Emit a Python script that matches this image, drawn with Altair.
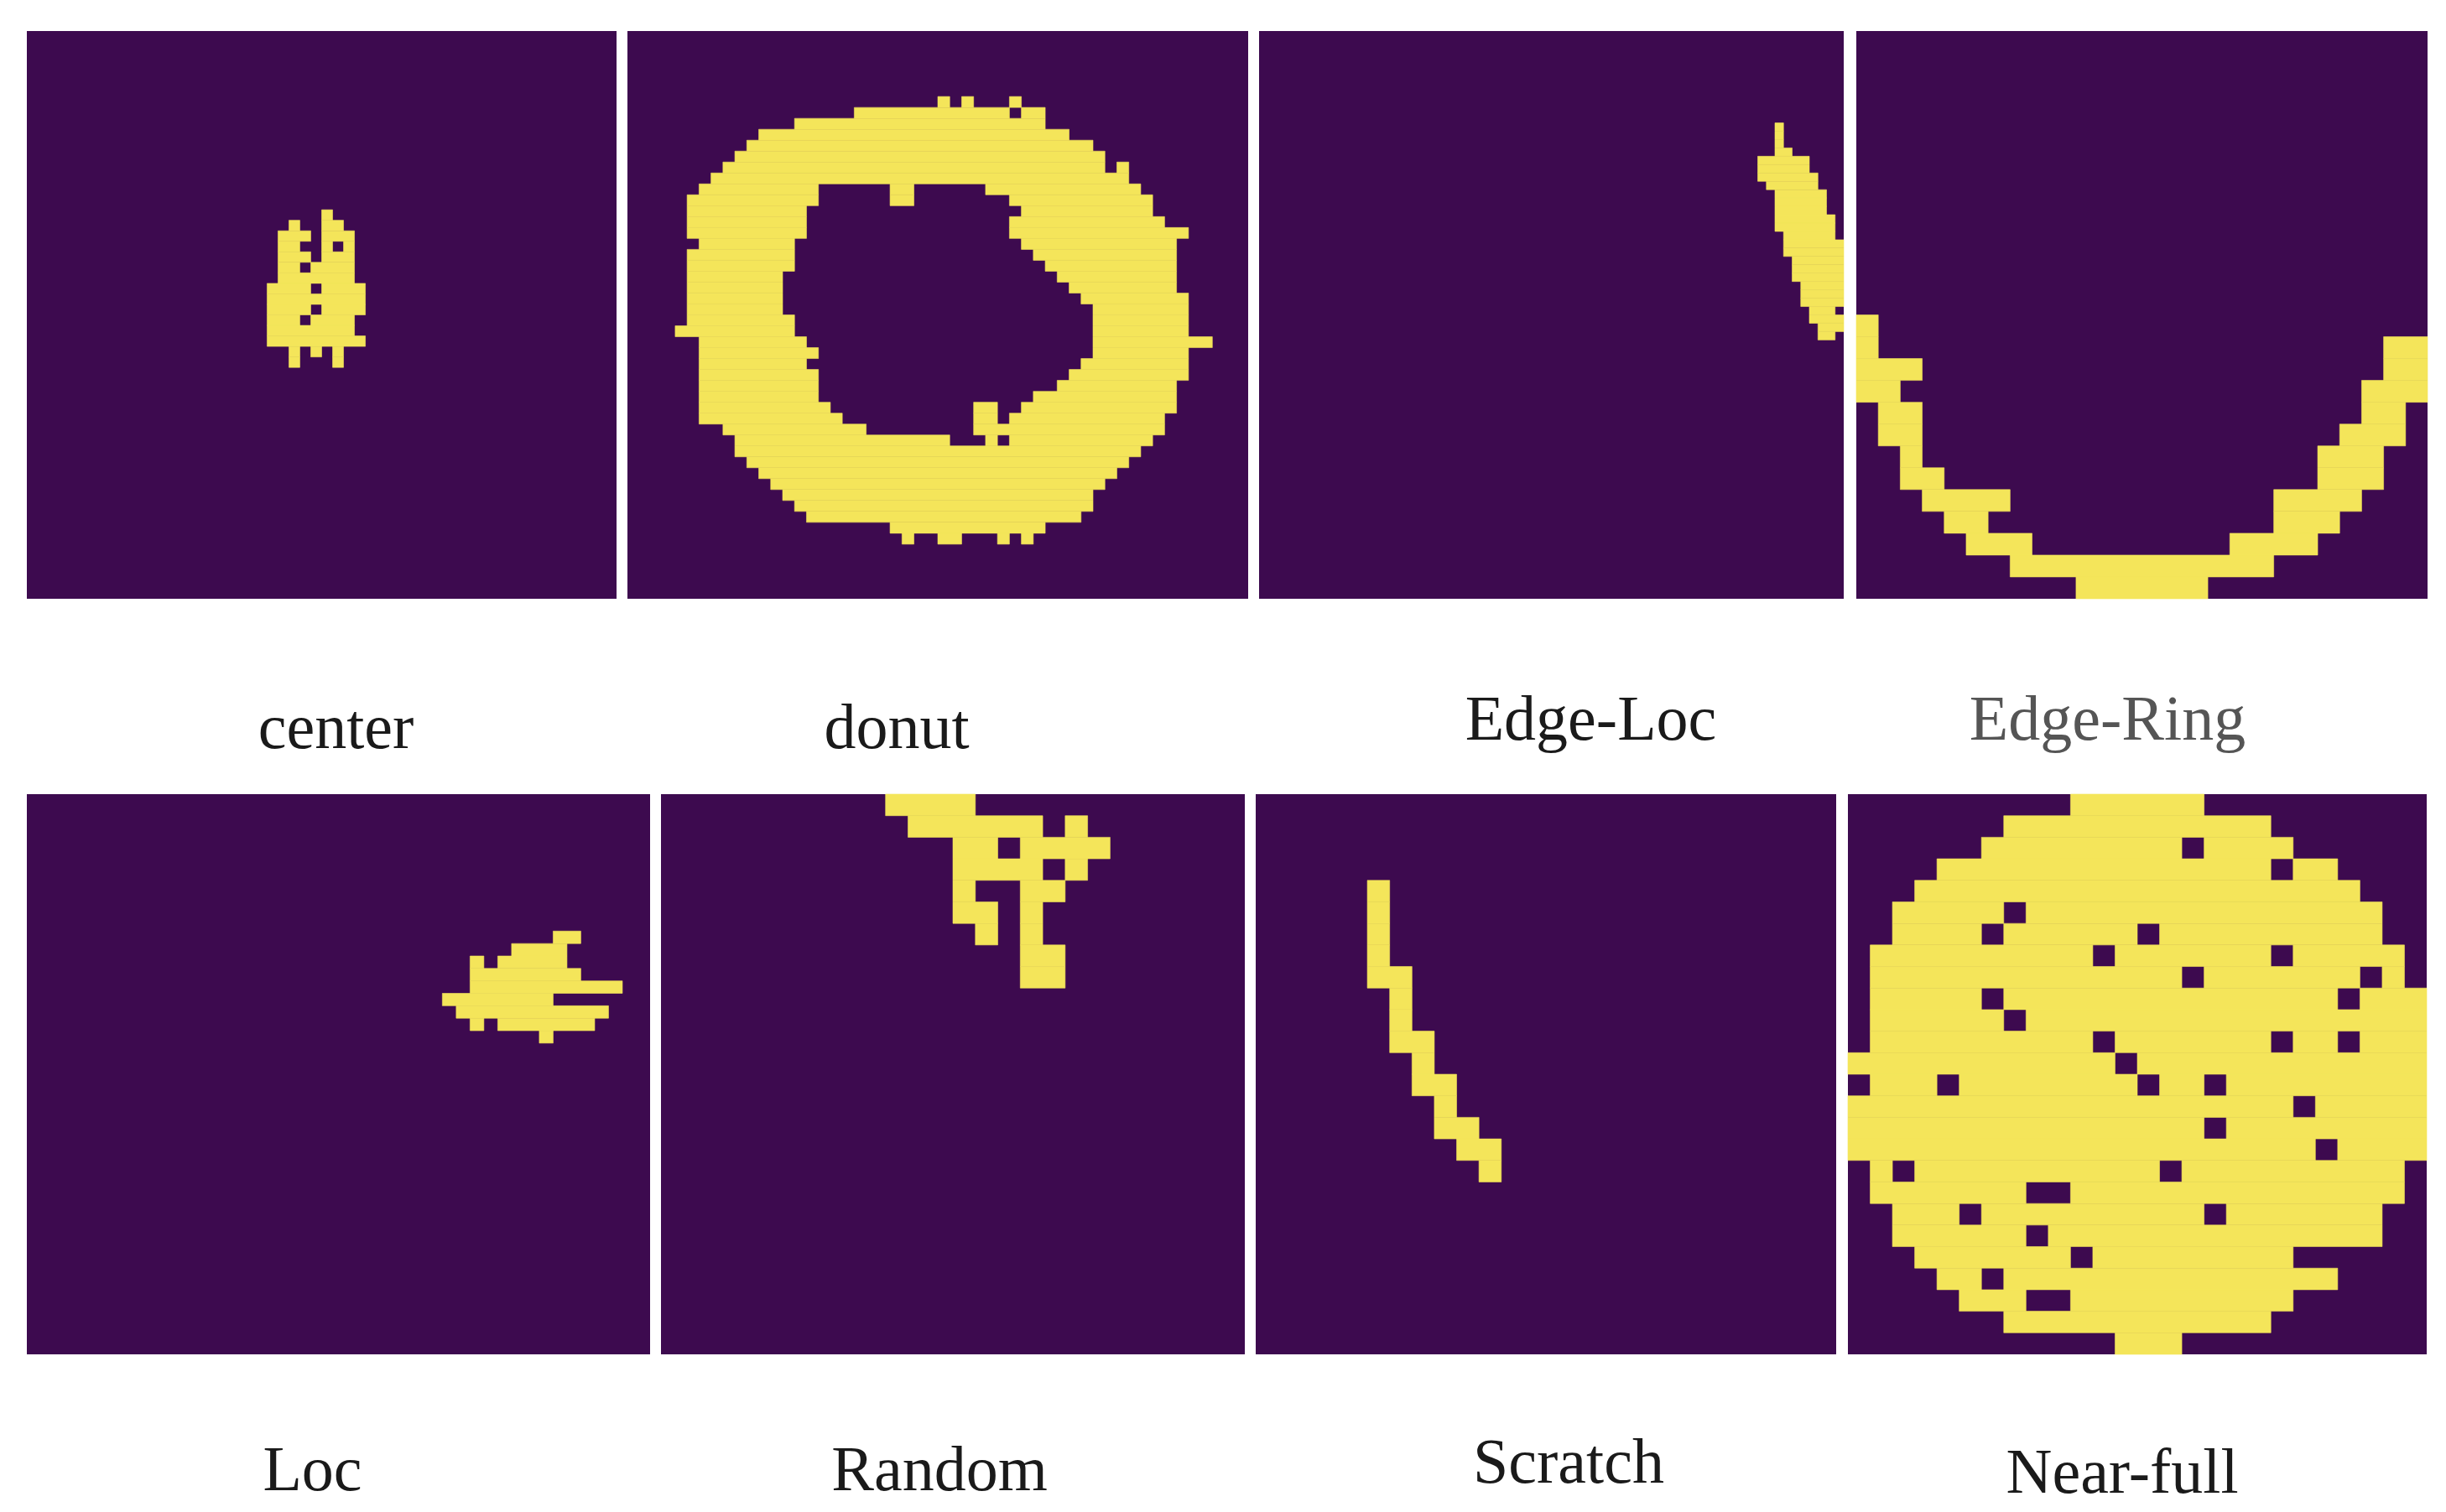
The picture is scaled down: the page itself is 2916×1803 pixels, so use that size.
import altair as alt
import pandas as pd

PURPLE = "#3d0a4f"
YELLOW = "#f4e55a"
FONT = "Liberation Serif"

# ---- panel labels ----
ROW1 = ["center", "donut", "Edge-Loc", "Edge-Ring"]
ROW2 = ["Loc", "Random", "Scratch", "Near-full"]

# ---- cells per side of each wafer map ----
GRID = {"center": 54, "donut": 52, "Edge-Loc": 68, "Edge-Ring": 26,
        "Loc": 45, "Random": 26, "Scratch": 26, "Near-full": 26}

# ---- failing dies: row -> list of (first_col, last_col) runs ----
CENTER = {
    17: [(27, 27)], 18: [(24, 24), (27, 28)], 19: [(23, 25), (27, 29)],
    20: [(23, 24), (27, 27), (29, 29)], 21: [(23, 25), (27, 29)],
    22: [(23, 24), (26, 29)], 23: [(23, 29)], 24: [(22, 25), (27, 30)],
    25: [(22, 30)], 26: [(22, 25), (27, 30)], 27: [(22, 24), (26, 29)],
    28: [(22, 29)], 29: [(22, 30)], 30: [(24, 24), (26, 26), (28, 28)],
    31: [(24, 24), (28, 28)],
}

DONUT = {
    6: [(26, 26), (28, 28), (32, 32)], 7: [(19, 31), (33, 34)], 8: [(14, 34)],
    9: [(11, 36)], 10: [(10, 38)], 11: [(9, 39)], 12: [(8, 39), (41, 41)],
    13: [(7, 41)], 14: [(6, 15), (22, 23), (30, 42)],
    15: [(5, 15), (22, 23), (32, 43)], 16: [(5, 14), (33, 43)],
    17: [(5, 14), (32, 44)], 18: [(5, 14), (32, 46)], 19: [(6, 13), (33, 45)],
    20: [(5, 13), (34, 45)], 21: [(5, 13), (35, 45)], 22: [(5, 12), (36, 45)],
    23: [(5, 12), (37, 45)], 24: [(5, 12), (38, 46)], 25: [(5, 12), (39, 46)],
    26: [(5, 13), (39, 46)], 27: [(4, 13), (39, 46)], 28: [(6, 14), (39, 48)],
    29: [(6, 15), (39, 46)], 30: [(6, 14), (38, 46)], 31: [(6, 15), (37, 46)],
    32: [(6, 15), (36, 45)], 33: [(6, 15), (34, 45)],
    34: [(6, 16), (29, 30), (33, 45)], 35: [(6, 17), (29, 30), (32, 44)],
    36: [(8, 19), (29, 44)], 37: [(9, 26), (30, 30), (32, 43)],
    38: [(9, 42)], 39: [(10, 41)], 40: [(11, 40)], 41: [(12, 39)],
    42: [(13, 38)], 43: [(14, 38)], 44: [(15, 37)], 45: [(22, 34)],
    46: [(23, 23), (26, 27), (31, 31), (33, 33)],
}

EDGE_LOC = {
    11: [(60, 60)], 12: [(60, 60)], 13: [(60, 60)], 14: [(60, 61)],
    15: [(58, 63)], 16: [(58, 63)], 17: [(58, 64)], 18: [(59, 64)],
    19: [(60, 65)], 20: [(60, 65)], 21: [(60, 65)], 22: [(60, 66)],
    23: [(60, 66)], 24: [(61, 66)], 25: [(61, 67)], 26: [(61, 67)],
    27: [(62, 67)], 28: [(62, 67)], 29: [(62, 67)], 30: [(63, 67)],
    31: [(63, 67)], 32: [(63, 67)], 33: [(64, 66)], 34: [(64, 67)],
    35: [(65, 67)], 36: [(65, 66)],
}

EDGE_RING = {
    13: [(0, 0)], 14: [(0, 0), (24, 25)], 15: [(0, 2), (24, 25)],
    16: [(0, 1), (23, 25)], 17: [(1, 2), (23, 24)], 18: [(1, 2), (22, 24)],
    19: [(2, 2), (21, 23)], 20: [(2, 3), (21, 23)], 21: [(3, 6), (19, 22)],
    22: [(4, 5), (19, 21)], 23: [(5, 7), (17, 20)], 24: [(7, 18)],
    25: [(10, 15)],
}

LOC = {
    11: [(38, 39)], 12: [(35, 38)], 13: [(32, 32), (34, 38)], 14: [(32, 39)],
    15: [(32, 42)], 16: [(30, 37)], 17: [(31, 41)], 18: [(32, 32), (34, 40)],
    19: [(37, 37)],
}

RANDOM = {
    0: [(10, 13)], 1: [(11, 16), (18, 18)], 2: [(13, 14), (16, 19)],
    3: [(13, 16), (18, 18)], 4: [(13, 13), (16, 17)], 5: [(13, 14), (16, 16)],
    6: [(14, 14), (16, 16)], 7: [(16, 17)], 8: [(16, 17)],
}

SCRATCH = {
    4: [(5, 5)], 5: [(5, 5)], 6: [(5, 5)], 7: [(5, 5)], 8: [(5, 6)],
    9: [(6, 6)], 10: [(6, 6)], 11: [(6, 7)], 12: [(7, 7)], 13: [(7, 8)],
    14: [(8, 8)], 15: [(8, 9)], 16: [(9, 10)], 17: [(10, 10)],
}

NEAR_FULL = {
    0: [(10, 15)], 1: [(7, 18)], 2: [(6, 14), (16, 19)], 3: [(4, 18), (20, 21)],
    4: [(3, 22)], 5: [(2, 6), (8, 23)], 6: [(2, 5), (7, 12), (14, 23)],
    7: [(1, 10), (12, 18), (20, 24)], 8: [(1, 14), (16, 22), (24, 24)],
    9: [(1, 5), (7, 21), (23, 25)], 10: [(1, 6), (8, 25)],
    11: [(1, 10), (12, 18), (20, 21), (23, 25)], 12: [(0, 11), (13, 25)],
    13: [(1, 3), (5, 12), (14, 15), (17, 25)], 14: [(0, 19), (21, 25)],
    15: [(0, 15), (17, 25)], 16: [(0, 20), (22, 25)],
    17: [(1, 1), (3, 13), (15, 24)], 18: [(1, 7), (10, 24)],
    19: [(2, 4), (6, 15), (17, 23)], 20: [(2, 7), (9, 23)],
    21: [(3, 9), (11, 19)], 22: [(4, 5), (7, 21)], 23: [(5, 7), (10, 19)],
    24: [(7, 18)], 25: [(12, 14)],
}

MAPS = {"center": CENTER, "donut": DONUT, "Edge-Loc": EDGE_LOC,
        "Edge-Ring": EDGE_RING, "Loc": LOC, "Random": RANDOM,
        "Scratch": SCRATCH, "Near-full": NEAR_FULL}

# ---- layout (pixels) ----
WIDTH = {"center": 703, "donut": 740, "Edge-Loc": 697, "Edge-Ring": 681,
         "Loc": 743, "Random": 696, "Scratch": 692, "Near-full": 690}
HEIGHT1 = 677
HEIGHT2 = 668
LABEL_DX = {"center": 17, "donut": -49, "Edge-Loc": 47, "Edge-Ring": -41,
            "Loc": -31, "Random": -16, "Scratch": 27, "Near-full": -18}
LABEL_DY = {"center": 0, "donut": 0, "Edge-Loc": -10, "Edge-Ring": -10,
            "Loc": 0, "Random": 0, "Scratch": -9, "Near-full": 3}
LABEL_COLOR = {"Edge-Ring": "#555555"}


def panel(name, height, offset):
    n = GRID[name]
    recs = [{"x": a, "x2": b + 1, "y": r, "y2": r + 1}
            for r, segs in MAPS[name].items() for a, b in segs]
    df = pd.DataFrame(recs)
    return alt.Chart(df).mark_rect(
        color=YELLOW, stroke=YELLOW, strokeWidth=0.6
    ).encode(
        x=alt.X("x:Q", scale=alt.Scale(domain=[0, n], nice=False, zero=False), axis=None),
        x2="x2:Q",
        y=alt.Y("y:Q", scale=alt.Scale(domain=[0, n], nice=False, zero=False, reverse=True), axis=None),
        y2="y2:Q",
    ).properties(
        width=WIDTH[name], height=height,
        title=alt.TitleParams(
            text=name, orient="bottom", anchor="middle", offset=offset,
            dx=LABEL_DX[name], dy=LABEL_DY[name], fontSize=76, font=FONT,
            fontWeight="normal", color=LABEL_COLOR.get(name, "#1a1a1a"),
        ),
    )


row1 = alt.hconcat(*[panel(n, HEIGHT1, 118) for n in ROW1], spacing=13)
row2 = alt.hconcat(*[panel(n, HEIGHT2, 102) for n in ROW2], spacing=13)

chart = alt.vconcat(row1, row2, spacing=39).properties(
    padding={"left": 24, "top": 29, "right": 0, "bottom": 0},
    background="white",
).configure_view(fill=PURPLE, strokeWidth=0)

chart.save("out.html", embed_options={"renderer": "svg", "actions": False})
